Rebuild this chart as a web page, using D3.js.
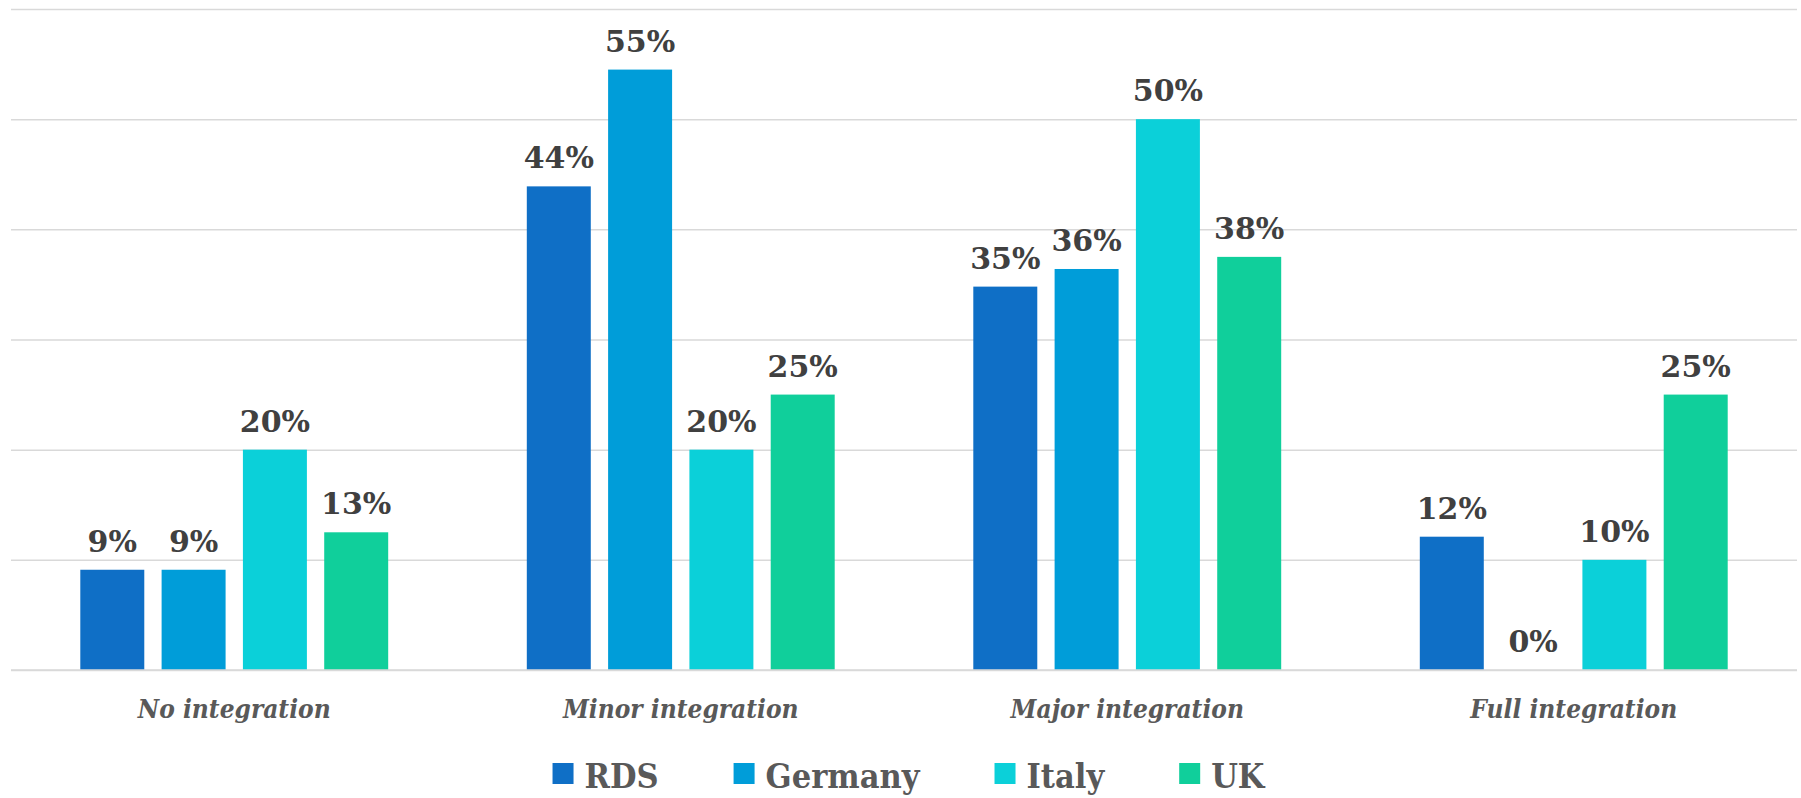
<!DOCTYPE html>
<html>
<head>
<meta charset="utf-8">
<script src="https://cdn.jsdelivr.net/npm/d3@7"></script>
<style>
  html, body { margin: 0; padding: 0; background: #ffffff; }
  svg { display: block; }
</style>
</head>
<body>
<svg id="chart" width="1801" height="798"></svg>
<script>
// ---- data ----
const categories = ["No integration", "Minor integration", "Major integration", "Full integration"];
const seriesNames = ["RDS", "Germany", "Italy", "UK"];
const rdsValues     = [9.1, 43.9, 34.8, 12.1];
const germanyValues = [9.1, 54.5, 36.4, 0];
const italyValues   = [20, 20, 50, 10];
const ukValues      = [12.5, 25, 37.5, 25];
const yTicks = [0, 10, 20, 30, 40, 50, 60];
const seriesColors = ["#0F6FC6", "#009DD9", "#0BD0D9", "#10CF9B"];

const seriesValues = [rdsValues, germanyValues, italyValues, ukValues];

(function () {
// ---- layout ----
const svg = d3.select("#chart");
const plotLeft = 11, plotRight = 1797, plotTop = 9, plotBottom = 670;

const x0 = d3.scaleBand().domain(categories).range([plotLeft, plotRight]).paddingInner(0).paddingOuter(0);
const groupW = x0.bandwidth();
const innerL = 307.9;
const x1 = d3.scaleBand().domain(seriesNames)
  .range([(groupW - innerL) / 2, (groupW + innerL) / 2])
  .paddingInner(0.213).paddingOuter(0);
const y = d3.scaleLinear().domain([0, 60]).range([plotBottom, plotTop]);
const color = d3.scaleOrdinal().domain(seriesNames).range(seriesColors);

// gridlines
const grid = d3.axisLeft(y).tickValues(yTicks).tickSize(-(plotRight - plotLeft)).tickFormat("");
const gg = svg.append("g").attr("transform", `translate(${plotLeft},0)`).call(grid);
gg.select(".domain").remove();
gg.selectAll(".tick line").attr("stroke", "#D9D9D9").attr("stroke-width", 1.5);

// data table
const rows = [];
categories.forEach((c, ci) => {
  seriesNames.forEach((s, si) => {
    rows.push({ cat: c, series: s, value: seriesValues[si][ci] });
  });
});

const groups = svg.append("g");
groups.selectAll("rect").data(rows).enter().append("rect")
  .attr("x", d => x0(d.cat) + x1(d.series))
  .attr("y", d => y(d.value))
  .attr("width", x1.bandwidth())
  .attr("height", d => y(0) - y(d.value))
  .attr("fill", d => color(d.series));

svg.append("line").attr("x1", plotLeft).attr("x2", plotRight)
  .attr("y1", y(0)).attr("y2", y(0))
  .attr("stroke", "#D9D9D9").attr("stroke-width", 1.5);

// data labels
groups.selectAll("text.lbl").data(rows).enter().append("text")
  .attr("class", "lbl")
  .attr("x", d => x0(d.cat) + x1(d.series) + x1.bandwidth() / 2)
  .attr("y", d => y(d.value) - 18)
  .attr("text-anchor", "middle")
  .attr("font-family", "'DejaVu Serif', serif")
  .attr("font-weight", "bold")
  .attr("font-size", 30)
  .attr("fill", "#404040")
  .text(d => Math.round(d.value) + "%");

// category axis labels
const xAxis = d3.axisBottom(x0).tickSize(0).tickPadding(0);
const xa = svg.append("g").attr("transform", `translate(0,${plotBottom})`).call(xAxis);
xa.select(".domain").remove();
xa.selectAll(".tick text")
  .attr("y", 48).attr("dy", 0)
  .attr("font-family", "'DejaVu Serif Condensed', 'DejaVu Serif', serif")
  .attr("font-style", "italic")
  .attr("font-weight", "bold")
  .attr("font-size", 26)
  .attr("fill", "#595959");

// legend
const legend = svg.append("g");
const items = legend.selectAll("g").data(seriesNames).enter().append("g");
items.append("rect").attr("width", 21).attr("height", 21).attr("y", 763).attr("fill", d => color(d));
items.append("text").attr("x", 32).attr("y", 788)
  .attr("font-family", "'DejaVu Serif Condensed', 'DejaVu Serif', serif")
  .attr("font-weight", "bold")
  .attr("font-size", 34)
  .attr("fill", "#595959")
  .text(d => d);
const widths = [];
items.each(function () {
  widths.push(32 + d3.select(this).select("text").node().getComputedTextLength());
});
const gap = 75;
const total = widths.reduce((a, b) => a + b, 0) + gap * (widths.length - 1);
let startX = 908.5 - total / 2;
items.attr("transform", (d, i) => {
  const t = `translate(${startX},0)`;
  startX += widths[i] + gap;
  return t;
});
})();
</script>
</body>
</html>
